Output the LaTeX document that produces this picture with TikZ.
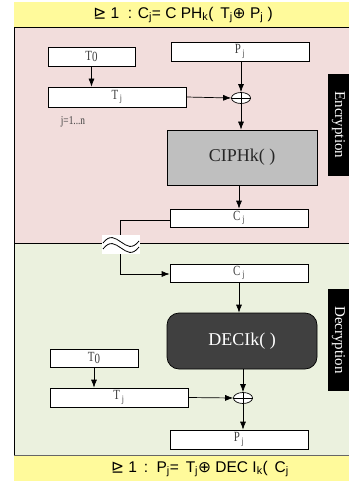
\documentclass[tikz,border=0pt]{standalone}
\usepackage{fontspec}
\setmainfont{Liberation Serif}
\newfontfamily\titlefont{Liberation Sans}
\newfontfamily\symfont{DejaVu Sans}
\usetikzlibrary{arrows.meta,shapes.geometric}
\definecolor{pinkbg}{RGB}{242,221,220}
\definecolor{greenbg}{RGB}{235,241,222}
\definecolor{yellowbg}{RGB}{255,250,155}
\definecolor{boxtext}{RGB}{64,64,64}
\definecolor{ciphgray}{RGB}{191,191,191}
\definecolor{decidark}{RGB}{64,64,64}
\newcommand{\nar}[1]{\scalebox{0.78}[1]{#1}}
\begin{document}
\begin{tikzpicture}[x=1pt,y=-1pt,
  box/.style={draw=black, fill=white, line width=0.7pt, inner sep=0pt, text=boxtext,
    font=\fontsize{14}{14}\selectfont},
  arr/.style={-{Latex[length=8pt,width=6pt]}, line width=0.7pt},
  xorn/.style={ellipse, draw=black, fill=white, line width=0.7pt, minimum width=19pt, minimum height=11pt, inner sep=0pt},
  sidelabel/.style={fill=black, text=white, inner sep=0pt, minimum width=102pt, minimum height=21pt, rotate=-90,
    font=\fontsize{15}{15}\selectfont},
  titletext/.style={font=\titlefont\fontsize{15.5}{15.5}\selectfont, text=black}
]
\useasboundingbox (0,0) rectangle (349,481);
% backgrounds
\fill[yellowbg] (14,2) rectangle (349,27);
\fill[pinkbg] (14,27) rectangle (349,243);
\fill[greenbg] (14,243) rectangle (349,455);
\fill[yellowbg] (14,455) rectangle (349,481);
\draw[line width=0.8pt] (349,27) -- (14,27) -- (14,455);
\draw[line width=0.7pt] (14,243) -- (349,243);
\draw[line width=0.7pt, black!60] (14,455) -- (349,455);
% titles
\node[titletext] (title) at (183,15) {{\symfont ⊵} 1\ \ : C\textsubscript{j}= C PH\textsubscript{k}( \,T\textsubscript{j}{\symfont⊕} P\textsubscript{j} )};
\node[titletext] (btitle) at (200,469) {{\symfont ⊵} 1 \,: \,P\textsubscript{j}= \,T\textsubscript{j}{\symfont⊕} DEC I\textsubscript{k}( \,C\textsubscript{j}};
% side labels
\node[sidelabel] (enc) at (338.5,125) {Encryption};
\node[sidelabel] (dec) at (338.5,340) {Decryption};
% encryption boxes
\node[box, minimum width=87pt, minimum height=19pt] (t0a) at (91.5,56.5) {\nar{T\raisebox{-1.5pt}{0}}};
\node[box, minimum width=138pt, minimum height=19pt] (pja) at (240,51.5) {\nar{P\,\textsubscript{j}}};
\node[box, minimum width=138pt, minimum height=20pt] (tja) at (117,97) {\nar{T\,\textsubscript{j}}};
\node[xorn] (xa) at (241,98) {};
\draw[line width=0.7pt] (xa.west) -- (xa.east) (xa.north) -- (xa.south);
\node[text=boxtext, font=\fontsize{12}{12}\selectfont] (jrange) at (73,122) {\nar{j=1...n}};
\node[box, fill=ciphgray, minimum width=150pt, minimum height=55pt, text=black!85,
  font=\fontsize{18}{18}\selectfont] (ciph) at (242,157.5) {CIPHk( )};
\node[box, minimum width=138pt, minimum height=18pt] (cja) at (239,218) {\nar{C\,\textsubscript{j}}};
% channel
\coordinate (ca) at (120,220);
\coordinate (cb) at (120,274);
% decryption boxes
\node[box, minimum width=138pt, minimum height=18pt] (cjb) at (239,273) {\nar{C\,\textsubscript{j}}};
\node[box, fill=decidark, rounded corners=12pt, minimum width=150pt, minimum height=56pt, text=white,
  font=\fontsize{18}{18}\selectfont] (deci) at (242,341) {DECIk( )};
\node[box, minimum width=88pt, minimum height=18pt] (t0b) at (94,358) {\nar{T\raisebox{-1.5pt}{0}}};
\node[box, minimum width=138pt, minimum height=19pt] (tjb) at (119,397.5) {\nar{T\,\textsubscript{j}}};
\node[xorn] (xb) at (243,398) {};
\draw[line width=0.7pt] (xb.west) -- (xb.east) (xb.north) -- (xb.south);
\node[box, minimum width=138pt, minimum height=19pt] (pjb) at (239,439.5) {\nar{P\,\textsubscript{j}}};
% arrows encryption
\draw[arr] (t0a) -- (tja.north -| t0a);
\draw[arr] (pja.south -| xa) -- (xa.north);
\draw[arr] (tja.east) -- (xa.west);
\draw[arr] (xa.south) -- (ciph.north -| xa);
\draw[arr] (ciph.south -| cja) -- (cja.north);
\draw[line width=0.7pt] (cja.west |- ca) -- (ca) -- (cb);
\draw[arr] (cb) -- (cjb.west |- cb);
% wave
\fill[white] (102,235) rectangle (140,254);
\draw[line width=0.8pt] (103,243) .. controls (110,234) and (115,238) .. (121,242) .. controls (127,246) and (132,250) .. (139,241);
\draw[line width=0.8pt] (103,249) .. controls (110,240) and (115,244) .. (121,248) .. controls (127,252) and (132,256) .. (139,247);
% arrows decryption
\draw[arr] (cjb.south) -- (deci.north -| cjb);
\draw[arr] (deci.south -| xb) -- (xb.north);
\draw[arr] (t0b) -- (tjb.north -| t0b);
\draw[arr] (tjb.east) -- (xb.west);
\draw[arr] (xb.south) -- (pjb.north -| xb);
\end{tikzpicture}
\end{document}
